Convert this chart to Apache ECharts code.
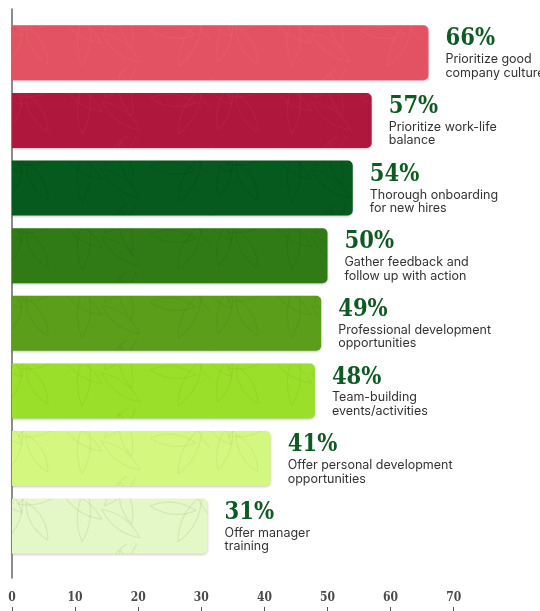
<!DOCTYPE html>
<html>
<head>
<meta charset="utf-8">
<script src="https://cdn.jsdelivr.net/npm/echarts@6/dist/echarts.min.js"></script>
<style>
  html, body { margin: 0; padding: 0; background: #ffffff; }
  #chart { width: 540px; height: 611px; }
</style>
</head>
<body>
<div id="chart"></div>
<script>
// Survey answers, top to bottom
const categories = [
  'Prioritize good\ncompany culture',
  'Prioritize work-life\nbalance',
  'Thorough onboarding\nfor new hires',
  'Gather feedback and\nfollow up with action',
  'Professional development\nopportunities',
  'Team-building\nevents/activities',
  'Offer personal development\nopportunities',
  'Offer manager\ntraining'
];
const values = [66, 57, 54, 50, 49, 48, 41, 31];
const barColors = ['#E35262', '#B0173D', '#075A1E', '#317B16', '#5A9E1A', '#9ADF2A', '#D3F77F', '#E3F8C6'];
const leafStrokes = [
  'rgba(255,255,255,0.045)', 'rgba(255,255,255,0.04)', 'rgba(0,0,0,0.07)', 'rgba(0,0,0,0.06)',
  'rgba(0,0,0,0.045)', 'rgba(0,0,0,0.04)', 'rgba(0,0,0,0.04)', 'rgba(90,130,40,0.12)'
];
const xTicks = [0, 10, 20, 30, 40, 50, 60, 70];

const serifFont = "'DejaVu Serif Condensed', 'DejaVu Serif', serif";

// Leaf-outline fill for each bar
function leafPattern(base, stroke) {
  const c = document.createElement('canvas');
  c.width = 210; c.height = 68;
  const ctx = c.getContext('2d');
  ctx.fillStyle = base;
  ctx.fillRect(0, 0, c.width, c.height);
  ctx.strokeStyle = stroke;
  ctx.lineWidth = 1.2;
  const leaves = [
    [8, 62, -1.3, 50, 13], [18, 28, -0.3, 46, 12], [48, 64, -2.1, 44, 12],
    [62, 16, 0.6, 48, 12], [82, 66, -1.5, 54, 13], [104, 30, -0.8, 50, 12],
    [120, 6, 1.3, 44, 11], [140, 62, -2.5, 48, 12], [150, 30, 0.1, 46, 12],
    [178, 66, -1.1, 52, 13], [196, 14, 0.9, 42, 11], [-6, 8, 0.8, 40, 11]
  ];
  leaves.forEach(([x, y, a, L, W]) => {
    ctx.save();
    ctx.translate(x, y);
    ctx.rotate(a);
    ctx.beginPath();
    ctx.moveTo(0, 0);
    ctx.quadraticCurveTo(L / 2, -W, L, 0);
    ctx.quadraticCurveTo(L / 2, W, 0, 0);
    ctx.stroke();
    ctx.restore();
  });
  return { image: c, repeat: 'repeat' };
}

const chart = echarts.init(document.getElementById('chart'), null, { renderer: 'canvas' });

const option = {
  animation: false,
  backgroundColor: '#ffffff',
  grid: [
    { left: 12, top: 19, width: 441.7, height: 541, containLabel: false },
    { left: 12, top: 9, width: 441.7, bottom: 33, containLabel: false }
  ],
  xAxis: [
    {
      type: 'value', gridIndex: 0, min: 0, max: 70, interval: 10,
      offset: 47,
      axisLine: { show: false },
      axisTick: { show: true, inside: false, length: 5, lineStyle: { color: '#555', width: 1 } },
      axisLabel: {
        inside: true, margin: 3, color: '#4a4a4a',
        fontFamily: serifFont, fontWeight: 'bold', fontSize: 12,
        formatter: v => xTicks.includes(v) ? String(v) : ''
      },
      splitLine: { show: false }
    },
    {
      type: 'value', gridIndex: 1, min: 0, max: 70, show: false
    }
  ],
  yAxis: [
    {
      type: 'category', gridIndex: 0, data: categories, inverse: true,
      axisLine: { show: false }, axisTick: { show: false }, axisLabel: { show: false },
      splitLine: { show: false }
    },
    {
      type: 'value', gridIndex: 1, min: 0, max: 1,
      axisLine: { show: true, lineStyle: { color: '#666', width: 1.5 } },
      axisTick: { show: false }, axisLabel: { show: false }, splitLine: { show: false }
    }
  ],
  series: [
    {
      type: 'bar',
      xAxisIndex: 0, yAxisIndex: 0,
      barWidth: 55,
      data: values.map((v, i) => ({
        value: v,
        itemStyle: { color: leafPattern(barColors[i], leafStrokes[i]) }
      })),
      itemStyle: {
        borderRadius: [0, 5, 5, 0],
        shadowColor: 'rgba(0,0,0,0.22)', shadowBlur: 2, shadowOffsetY: 1
      },
      label: {
        show: true,
        position: 'right',
        distance: 17,
        formatter: p => {
          const lines = categories[p.dataIndex].split('\n');
          return '{p|' + p.value + '%}\n' + lines.map(l => '{d|' + l + '}').join('\n');
        },
        rich: {
          p: { fontFamily: serifFont, fontWeight: 'bold', fontSize: 23.5, color: '#0F5A22', lineHeight: 27 },
          d: { fontFamily: 'Inter', fontSize: 12.5, color: '#333333', lineHeight: 13.5 }
        }
      }
    }
  ]
};

chart.setOption(option);
</script>
</body>
</html>
